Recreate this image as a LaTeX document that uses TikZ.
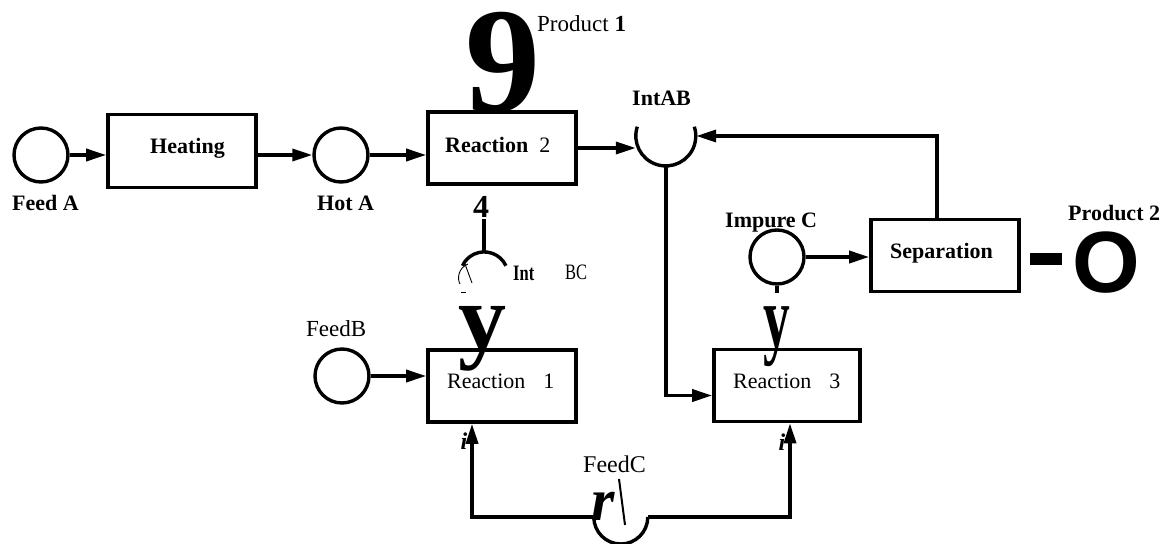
\documentclass[tikz,border=0pt]{standalone}
\usepackage{fontspec}
\setmainfont{Liberation Serif}
\newfontfamily\sansfam{Liberation Sans}
\usetikzlibrary{arrows.meta}
\newcommand\myfs[1]{\fontsize{#1}{#1}\selectfont}
\tikzset{
  box/.style={draw, line width=3.6pt, inner sep=0pt, minimum width=148pt, minimum height=72pt},
  place/.style={circle, draw, line width=3.4pt, inner sep=0pt, minimum size=54pt},
  ghost/.style={circle, inner sep=0pt},
  conn/.style={line width=3.4pt},
  arr/.style={conn, -{Triangle[length=20pt,width=12pt]}},
  lbl/.style={inner sep=0pt, anchor=base west, font=\myfs{22}},
  big/.style={inner sep=0pt, anchor=base, font=\myfs{#1}\bfseries},
}
\begin{document}
\begin{tikzpicture}[x=1pt,y=1pt]
\useasboundingbox (0,0) rectangle (1166,-543);
% places
\node[place] (feedA) at (41,-155) {};
\node[place] (hotA) at (341,-155) {};
\node[place] (impC) at (777,-257) {};
\node[place] (feedB) at (342,-376) {};
\node[ghost, minimum size=60pt] (intAB) at (666,-136) {};
\node[ghost, minimum size=48pt] (intBC) at (484,-276) {};
\node[ghost, minimum size=54pt] (feedC) at (621,-517) {};
% boxes
\node[box, minimum width=148pt, minimum height=73pt] (heat) at (182,-151) {};
\node[box] (rx2) at (502,-148) {};
\node[box] (sep) at (945,-255.5) {};
\node[box, minimum width=146pt] (rx3) at (787,-385.5) {};
\node[box] (rx1) at (502,-386) {};
% arcs
\draw[conn] (intAB.162) arc[start angle=162, end angle=378, radius=30pt];
\draw[conn] (intBC.25) arc[start angle=25, end angle=155, radius=24pt];
\draw[conn] (feedC.west) arc[start angle=180, end angle=360, radius=27pt];
% connectors
\draw[arr] (feedA.east) -- (feedA.east -| heat.west);
\draw[arr] (heat.east |- hotA.west) -- (hotA.west);
\draw[arr] (hotA.east) -- (hotA.east -| rx2.west);
\draw[arr] (rx2.east) -- (rx2.east -| intAB.west);
\draw[arr] ([xshift=-8pt]sep.north) |- (intAB.east);
\draw[arr] (intAB.south) |- ([yshift=-10pt]rx3.west);
\draw[arr] (impC.east) -- (impC.east -| sep.west);
\draw[arr] (feedB.east) -- (feedB.east -| rx1.west);
\draw[arr] (feedC.west) -| ([xshift=-30pt]rx1.south);
\draw[arr] (feedC.east) -| ([xshift=3pt]rx3.south);
\coordinate (bcTop) at (484,-219);
\draw[conn] (bcTop) -- (intBC.north);
\coordinate (impStub) at (777,-293);
\draw[conn] (impC.south) -- (impStub);
% odd thin marks at Int BC and FeedC
\draw[line width=0.9pt] (468,-264) .. controls (458,-268) and (457,-279) .. (460,-284);
\draw[line width=0.9pt] (465,-264) -- (472,-283);
\draw[line width=0.9pt] (461,-292) -- (466,-292);
\draw[line width=2pt] (619,-479) -- (625,-525);
% product 2 bar
\fill (1030,-253) rectangle (1062,-265);
% labels
\node[lbl, font=\myfs{22}\bfseries] at (12,-210) {Feed A};
\node[lbl, font=\myfs{22}\bfseries] at (150,-153) {Heating};
\node[lbl, font=\myfs{22}\bfseries] at (317,-210) {Hot A};
\node[lbl] at (445,-152) {\textbf{Reaction}\hspace{11pt}2};
\node[lbl, font=\myfs{23}] at (537,-32) {Product \textbf{1}};
\node[lbl, font=\myfs{22}\bfseries] at (632,-105) {IntAB};
\node[lbl, font=\myfs{22}\bfseries] at (725,-227) {Impure C};
\node[lbl, font=\myfs{22}\bfseries] at (1068,-220) {Product 2};
\node[lbl, font=\myfs{22}\bfseries] at (890,-258) {Separation};
\node[lbl] at (733,-388) {Reaction\hspace{18pt}3};
\node[lbl] at (447,-388) {Reaction\hspace{18pt}1};
\node[lbl, font=\myfs{23}] at (306,-336) {FeedB};
\node[lbl, font=\myfs{24}] at (583,-472) {FeedC};
\node[lbl, font=\myfs{22}\bfseries] at (513,-280) {\scalebox{0.75}[1]{Int}};
\node[lbl, font=\myfs{22}] at (565,-279) {\scalebox{0.75}[1]{BC}};
% large glyph marks
\node[big=150] at (503,-111) {9};
\node[big=32] at (481,-217) {4};
\node[big=96] at (482,-350) {y};
\node[big=89] at (777,-347) {\scalebox{0.6}[1]{y}};
\node[big=87, font=\myfs{87}\sansfam\bfseries] at (1106,-292) {O};
\node[big=60, font=\myfs{60}\bfseries\itshape] at (603,-520) {r};
\node[big=24, font=\myfs{24}\bfseries\itshape] at (464,-449) {i};
\node[big=24, font=\myfs{24}\bfseries\itshape] at (782,-450) {i};
\end{tikzpicture}
\end{document}
